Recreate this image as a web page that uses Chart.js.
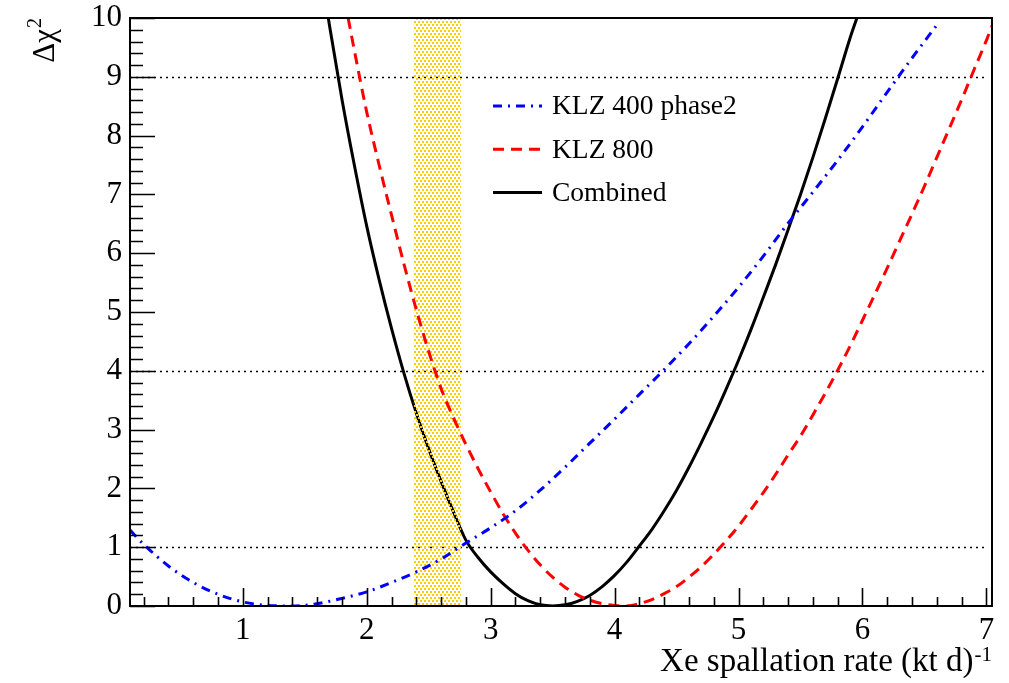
<!DOCTYPE html>
<html>
<head>
<meta charset="utf-8">
<script src="https://cdn.jsdelivr.net/npm/chart.js@4.4.1/dist/chart.umd.min.js"></script>
<style>
  html, body { margin: 0; padding: 0; background: #ffffff; }
  #wrap { width: 1009px; height: 683px; }
</style>
</head>
<body>
<div id="wrap"><canvas id="chart" width="1009" height="683"></canvas></div>
<script>
// Δχ² profiles versus the Xe spallation rate, (kt d)^-1
const seriesLabels = ['KLZ 400 phase2', 'KLZ 800', 'Combined'];

const klz400Rate = [0.09, 0.2, 0.4, 0.6, 0.8, 1.0, 1.2, 1.4, 1.6, 1.8, 2.0, 2.2, 2.4, 2.6, 2.8, 3.0,
  3.2, 3.4, 3.6, 3.8, 4.0, 4.2, 4.4, 4.6, 4.8, 5.0, 5.2, 5.4, 5.6, 5.8, 6.0, 6.2, 6.4, 6.6];
const klz400Chi2 = [1.29, 1.05, 0.68, 0.40, 0.20, 0.07, 0.01, 0.00, 0.04, 0.13, 0.24, 0.40, 0.58, 0.80, 1.07, 1.33,
  1.62, 1.97, 2.36, 2.77, 3.18, 3.60, 4.02, 4.46, 4.93, 5.42, 5.95, 6.51, 7.04, 7.58, 8.15, 8.74, 9.32, 9.88];

const klz800Rate = [1.85, 1.9, 2.0, 2.1, 2.2, 2.3, 2.4, 2.5, 2.6, 2.7, 2.8, 2.9, 3.0, 3.1, 3.2, 3.3, 3.4, 3.5,
  3.6, 3.7, 3.8, 3.9, 4.0, 4.1, 4.2, 4.3, 4.4, 4.5, 4.6, 4.7, 4.8, 4.9, 5.0, 5.1, 5.2, 5.3, 5.4, 5.5,
  5.6, 5.7, 5.8, 5.9, 6.0, 6.1, 6.2, 6.3, 6.4, 6.5, 6.6, 6.7, 6.8, 6.9, 7.0, 7.05];
const klz800Chi2 = [10.0, 9.45, 8.40, 7.50, 6.65, 5.82, 5.04, 4.33, 3.70, 3.20, 2.75, 2.33, 1.94, 1.57, 1.24, 0.95, 0.70, 0.49,
  0.32, 0.19, 0.10, 0.04, 0.01, 0.00, 0.04, 0.11, 0.21, 0.33, 0.49, 0.67, 0.88, 1.11, 1.36, 1.64, 1.93, 2.24, 2.57, 2.89,
  3.25, 3.62, 4.01, 4.42, 4.86, 5.30, 5.75, 6.21, 6.67, 7.14, 7.63, 8.12, 8.61, 9.12, 9.62, 9.89];

const combinedRate = [1.69, 1.7, 1.8, 1.9, 2.0, 2.1, 2.2, 2.3, 2.4, 2.5, 2.6, 2.7, 2.8, 2.9, 3.0, 3.1, 3.2, 3.3, 3.4, 3.5,
  3.6, 3.7, 3.8, 3.9, 4.0, 4.1, 4.2, 4.3, 4.4, 4.5, 4.6, 4.7, 4.8, 4.9, 5.0, 5.1, 5.2, 5.3, 5.4, 5.5,
  5.6, 5.7, 5.8, 5.9, 5.955];
const combinedChi2 = [10.0, 9.87, 8.62, 7.50, 6.46, 5.55, 4.72, 3.96, 3.28, 2.67, 2.12, 1.60, 1.12, 0.82, 0.58, 0.38, 0.21, 0.09, 0.02, 0.00,
  0.02, 0.08, 0.18, 0.33, 0.52, 0.75, 1.02, 1.30, 1.62, 1.97, 2.36, 2.78, 3.22, 3.69, 4.18, 4.70, 5.25, 5.81, 6.40, 7.00,
  7.63, 8.29, 8.97, 9.66, 10.0];

// axis range, tick values and reference lines
const rateRange = [0.09, 7.045];
const chi2Range = [0, 10];
const rateMajorTicks = [1, 2, 3, 4, 5, 6, 7];
const chi2MajorTicks = [0, 1, 2, 3, 4, 5, 6, 7, 8, 9, 10];
const minorStep = 0.2;
const chi2Levels = [1, 4, 9];
const levelLineEnd = 7.0;
const expectedBand = [2.38, 2.76];

const serif = "'Liberation Serif', 'Times New Roman', serif";

function points(xs, ys) {
  return xs.map((x, i) => ({ x: x, y: ys[i] }));
}

function dotPattern(ctx) {
  const tile = document.createElement('canvas');
  tile.width = 4; tile.height = 6;
  const g = tile.getContext('2d');
  g.fillStyle = '#ffcc00';
  g.fillRect(0, 0, 2, 2);
  g.fillRect(2, 3, 2, 2);
  return ctx.createPattern(tile, 'repeat');
}

const framePlugin = {
  id: 'rootFrame',
  beforeDatasetsDraw(chart) {
    const { ctx, chartArea: a, scales: { x, y } } = chart;
    ctx.save();
    ctx.beginPath();
    ctx.rect(a.left, a.top, a.right - a.left, a.bottom - a.top);
    ctx.clip();
    ctx.strokeStyle = '#000';
    ctx.lineWidth = 1.6;
    ctx.setLineDash([2, 4]);
    chi2Levels.forEach(v => {
      const py = Math.round(y.getPixelForValue(v)) + 0.5;
      ctx.beginPath();
      ctx.moveTo(a.left, py);
      ctx.lineTo(x.getPixelForValue(levelLineEnd), py);
      ctx.stroke();
    });
    ctx.restore();
  },
  afterDatasetDraw(chart, args) {
    if (args.index !== 2) return;
    const { ctx, chartArea: a, scales: { x } } = chart;
    const x0 = x.getPixelForValue(expectedBand[0]);
    const x1 = x.getPixelForValue(expectedBand[1]);
    ctx.save();
    ctx.fillStyle = dotPattern(ctx);
    ctx.fillRect(x0, a.top, x1 - x0, a.bottom - a.top);
    ctx.restore();
  },
  afterDraw(chart) {
    const { ctx, chartArea: a, scales: { x, y } } = chart;
    ctx.save();
    // tick marks pointing into the frame
    ctx.strokeStyle = '#000';
    ctx.lineWidth = 1.6;
    ctx.beginPath();
    const nx = Math.round((rateRange[1]) / minorStep);
    for (let k = 1; k <= nx; k++) {
      const v = +(k * minorStep).toFixed(3);
      if (v < rateRange[0] || v > rateRange[1]) continue;
      const major = rateMajorTicks.includes(v);
      const px = Math.round(x.getPixelForValue(v)) + 0.5;
      ctx.moveTo(px, a.bottom);
      ctx.lineTo(px, a.bottom - (major ? 18 : 9));
    }
    const ny = Math.round((chi2Range[1] - chi2Range[0]) / minorStep);
    for (let k = 0; k <= ny; k++) {
      const v = +(chi2Range[0] + k * minorStep).toFixed(3);
      const major = chi2MajorTicks.includes(v);
      const py = Math.round(y.getPixelForValue(v)) + 0.5;
      ctx.moveTo(a.left, py);
      ctx.lineTo(a.left + (major ? 25 : 13), py);
    }
    ctx.stroke();
    // frame
    ctx.lineWidth = 2;
    ctx.strokeRect(a.left, a.top, a.right - a.left, a.bottom - a.top);

    // legend
    const lx0 = 493, lx1 = 542, ltx = 552, ly0 = 106, ldy = 43.3;
    ctx.font = '27.5px ' + serif;
    ctx.textBaseline = 'middle';
    ctx.textAlign = 'left';
    chart.data.datasets.forEach((ds, i) => {
      const ly = ly0 + i * ldy;
      ctx.strokeStyle = ds.borderColor;
      ctx.lineWidth = ds.borderWidth;
      ctx.setLineDash(ds.borderDash || []);
      ctx.beginPath();
      ctx.moveTo(lx0, ly);
      ctx.lineTo(lx1, ly);
      ctx.stroke();
      ctx.setLineDash([]);
      ctx.fillStyle = '#000';
      ctx.fillText(ds.label, ltx, ly + 1);
    });

    // x axis title with superscript
    ctx.fillStyle = '#000';
    ctx.textBaseline = 'alphabetic';
    ctx.textAlign = 'left';
    ctx.font = '21px ' + serif;
    const sup = '-1';
    const wSup = ctx.measureText(sup).width;
    ctx.fillText(sup, a.right - wSup, 661);
    ctx.font = '33px ' + serif;
    const xt = 'Xe spallation rate (kt d)';
    const wX = ctx.measureText(xt).width;
    ctx.fillText(xt, a.right - wSup - 1 - wX, 671);

    // y axis title, rotated, ending at the top of the frame
    ctx.save();
    ctx.translate(54, a.top);
    ctx.rotate(-Math.PI / 2);
    ctx.font = '20px ' + serif;
    const w2 = ctx.measureText('2').width;
    ctx.font = '31px ' + serif;
    const wMain = ctx.measureText('Δχ').width;
    ctx.fillText('Δχ', -(wMain + w2 + 1), 0);
    ctx.font = '20px ' + serif;
    ctx.fillText('2', -w2, -13);
    ctx.restore();

    ctx.restore();
  }
};

new Chart(document.getElementById('chart'), {
  type: 'line',
  data: {
    datasets: [
      {
        label: seriesLabels[0],
        data: points(klz400Rate, klz400Chi2),
        borderColor: '#0000ff',
        borderWidth: 3,
        borderDash: [9, 6, 2, 6],
        pointRadius: 0,
        fill: false,
        cubicInterpolationMode: 'monotone'
      },
      {
        label: seriesLabels[1],
        data: points(klz800Rate, klz800Chi2),
        borderColor: '#ff0000',
        borderWidth: 3,
        borderDash: [11, 7],
        pointRadius: 0,
        fill: false,
        cubicInterpolationMode: 'monotone'
      },
      {
        label: seriesLabels[2],
        data: points(combinedRate, combinedChi2),
        borderColor: '#000000',
        borderWidth: 3,
        pointRadius: 0,
        fill: false,
        cubicInterpolationMode: 'monotone'
      }
    ]
  },
  options: {
    responsive: false,
    animation: false,
    devicePixelRatio: 1,
    layout: { padding: { left: 0, top: 18, right: 17, bottom: 0 } },
    plugins: {
      legend: { display: false },
      tooltip: { enabled: false },
      title: { display: false }
    },
    scales: {
      x: {
        type: 'linear',
        min: rateRange[0],
        max: rateRange[1],
        grid: { display: false, drawTicks: false },
        border: { display: false },
        ticks: {
          stepSize: 1,
          includeBounds: false,
          autoSkip: false,
          maxRotation: 0,
          padding: 6,
          color: '#000',
          font: { family: serif, size: 31 }
        },
        afterFit(s) { s.height = 77; s.paddingLeft = 0; s.paddingRight = 0; }
      },
      y: {
        type: 'linear',
        min: chi2Range[0],
        max: chi2Range[1],
        grid: { display: false, drawTicks: false },
        border: { display: false },
        ticks: {
          stepSize: 1,
          autoSkip: false,
          padding: 8,
          color: '#000',
          font: { family: serif, size: 31 }
        },
        afterFit(s) { s.width = 130; s.paddingTop = 0; s.paddingBottom = 0; }
      }
    }
  },
  plugins: [framePlugin]
});
</script>
</body>
</html>
